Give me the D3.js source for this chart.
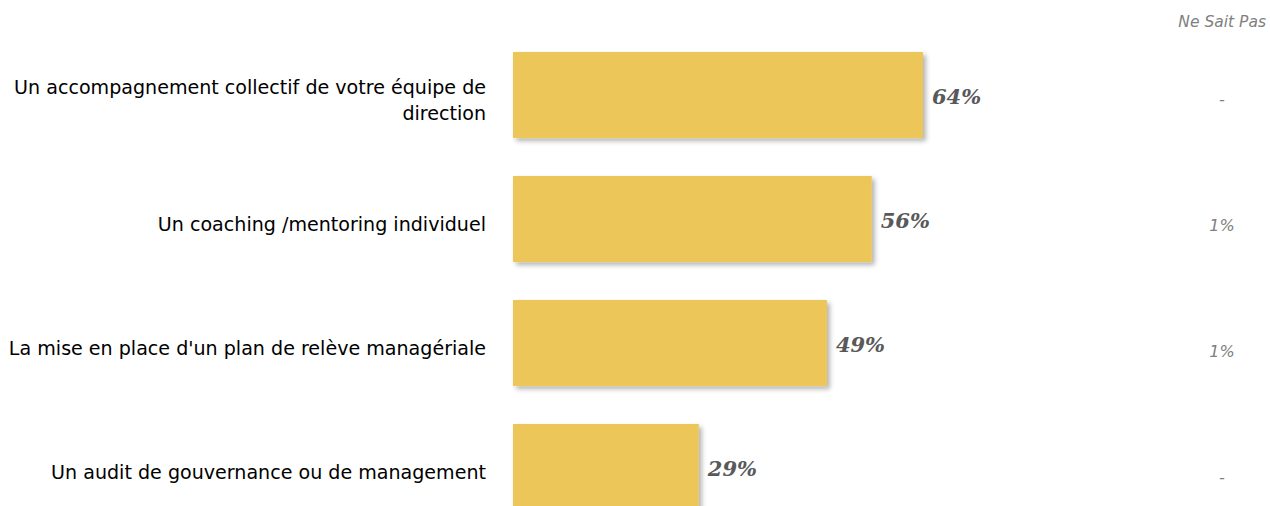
<!DOCTYPE html>
<html><head><meta charset="utf-8">
<script src="https://cdn.jsdelivr.net/npm/d3@7"></script>
<style>body{margin:0;background:#fff;}svg{display:block;}</style>
</head><body>
<svg id="c" width="1270" height="506"></svg>
<script>
const categories = [
  ["Un accompagnement collectif de votre équipe de", "direction"],
  ["Un coaching /mentoring individuel"],
  ["La mise en place d'un plan de relève managériale"],
  ["Un audit de gouvernance ou de management"]
];
const values = [64, 56, 49, 29];
const nspLabels = ["-", "1%", "1%", "-"];
const nspHeader = "Ne Sait Pas";

const svg = d3.select("#c");
const defs = svg.append("defs");
const f = defs.append("filter").attr("id","sh").attr("x","-5%").attr("y","-5%").attr("width","115%").attr("height","125%");
f.append("feGaussianBlur").attr("in","SourceAlpha").attr("stdDeviation",2.5);
f.append("feOffset").attr("dx",3).attr("dy",3).attr("result","b");
f.append("feComponentTransfer").append("feFuncA").attr("type","linear").attr("slope",0.3);
const m = f.append("feMerge"); m.append("feMergeNode"); m.append("feMergeNode").attr("in","SourceGraphic");

const x = d3.scaleLinear().domain([0, 100]).range([513, 513 + 640.6]);
const y = d3.scaleBand().domain(d3.range(categories.length)).range([33, 529]).paddingInner(0.306).paddingOuter(0.153);
const yN = d3.scalePoint().domain(d3.range(nspLabels.length)).range([105, 483]);

svg.selectAll("rect.bar").data(values).join("rect")
  .attr("class","bar")
  .attr("x", x(0)).attr("y", (d,i)=>y(i))
  .attr("width", d=>x(d)-x(0)).attr("height", y.bandwidth())
  .attr("fill","#ECC659").attr("filter","url(#sh)");

svg.selectAll("text.val").data(values).join("text")
  .attr("class","val")
  .attr("x", d=>x(d)+9).attr("y",(d,i)=>y(i)+y.bandwidth()/2+9)
  .attr("font-family","'DejaVu Serif', serif").attr("font-style","italic").attr("font-weight","bold")
  .attr("font-size",21).attr("fill","#595959")
  .text(d=>d+"%");

const cat = svg.selectAll("text.cat").data(categories).join("text")
  .attr("class","cat")
  .attr("text-anchor","end")
  .attr("font-family","'DejaVu Sans',sans-serif")
  .attr("font-size",18).attr("fill","#000");
cat.each(function(lines,i){
  const t = d3.select(this);
  const cy = y(i)+y.bandwidth()/2;
  const lh = 26;
  const start = cy + 12 - (lines.length-1)*lh/2;
  lines.forEach((l,k)=>{
    t.append("tspan").attr("x",486).attr("y",start+k*lh).text(l);
  });
});
const firstSpan = cat.filter((d,i)=>i===0).select("tspan").node();
const w = firstSpan.getComputedTextLength();
cat.attr("font-size", 18 * 472 / w);

svg.append("text").attr("x",1266).attr("y",27).attr("text-anchor","end")
  .attr("font-family","'DejaVu Sans',sans-serif").attr("font-style","italic")
  .attr("font-size",15.5).attr("fill","#7f7f7f").text(nspHeader);

svg.selectAll("text.nsp").data(nspLabels).join("text")
  .attr("class","nsp").attr("text-anchor","middle")
  .attr("x",1222).attr("y",(d,i)=>yN(i))
  .attr("font-family","'DejaVu Sans',sans-serif").attr("font-style","italic")
  .attr("font-size",16).attr("fill","#7f7f7f").text(d=>d);
</script>
</body></html>
